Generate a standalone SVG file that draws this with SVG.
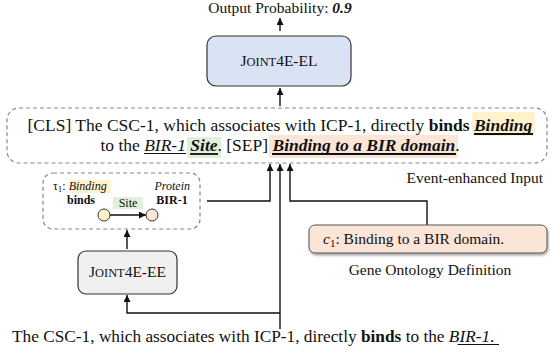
<svg xmlns="http://www.w3.org/2000/svg" width="550" height="363" viewBox="0 0 550 363">
<defs>
<marker id="ah" markerWidth="8" markerHeight="8" refX="7" refY="3.5" orient="auto" markerUnits="userSpaceOnUse"><path d="M0,0 L7,3.5 L0,7 z" fill="#111"/></marker>
<filter id="sh" x="-5%" y="-20%" width="115%" height="170%"><feDropShadow dx="1" dy="2" stdDeviation="1.2" flood-color="#000" flood-opacity="0.35"/></filter>
</defs>
<style>
text{font-family:"Liberation Serif","Times New Roman",serif;fill:#111}
.main{font-size:17.5px}
.lab{font-size:15.5px}
.sm{font-size:12px}
.b{font-weight:bold}
.i{font-style:italic}
.conn{fill:none;stroke:#111;stroke-width:1.4}
.dash{fill:none;stroke:#888;stroke-width:1.2;stroke-dasharray:4 3}
.ul{stroke:#111;stroke-width:1.8}
.ult{stroke:#111;stroke-width:1}
.node{stroke:#333;stroke-width:1.2}
</style>

<g id="connectors">
<line class="conn" x1="280" y1="31" x2="280" y2="18" marker-end="url(#ah)"/>
<line class="conn" x1="280" y1="106" x2="280" y2="88" marker-end="url(#ah)"/>
<path class="conn" d="M207,201 H270 V164" marker-end="url(#ah)"/>
<path class="conn" d="M280,329 V164" marker-end="url(#ah)"/>
<path class="conn" d="M427,225 V201 H290 V164" marker-end="url(#ah)"/>
<path class="conn" d="M280,313 H127 V295" marker-end="url(#ah)"/>
<line class="conn" x1="127" y1="249" x2="127" y2="230" marker-end="url(#ah)"/>
</g>

<g id="output-probability">
<text class="lab" x="280" y="13" text-anchor="middle">Output Probability: <tspan class="b i">0.9</tspan></text>
</g>

<g id="joint4e-el">
<rect class="node" x="207" y="36" width="144" height="50" rx="9" fill="#dae3f3"/>
<text class="lab" x="279" y="66" text-anchor="middle">J<tspan font-size="12.4px">OINT</tspan>4E-EL</text>
</g>

<g id="event-enhanced-input">
<rect class="dash" x="7" y="108" width="540" height="55" rx="12"/>
<rect x="472" y="112" width="63" height="24" fill="#fff2cc"/>
<rect x="187" y="137" width="34" height="21" fill="#e2f0d9"/>
<rect x="269" y="135" width="189" height="23" fill="#fbe5d6"/>
<text class="main" x="27.5" y="131">[CLS] The CSC-1, which associates with ICP-1, directly <tspan class="b">binds</tspan> <tspan class="b i">Binding</tspan></text>
<text class="main" x="100.4" y="151">to the <tspan class="i">BIR-1</tspan> <tspan class="b i">Site</tspan>. [SEP] <tspan class="b i">Binding to a BIR domain</tspan>.</text>
<line class="ul" x1="474" y1="134" x2="533" y2="134"/>
<line class="ult" x1="144" y1="153.5" x2="186" y2="153.5"/>
<line class="ul" x1="190" y1="154" x2="218" y2="154"/>
<line class="ul" x1="272" y1="154" x2="456" y2="154"/>
<text class="lab" x="543" y="183" text-anchor="end">Event-enhanced Input</text>
</g>

<g id="event-graph">
<rect class="dash" x="43" y="173" width="157" height="56" rx="10"/>
<rect x="70" y="180" width="41" height="13" fill="#fff2cc"/>
<text class="sm" x="53" y="190">τ<tspan font-size="9px" dy="2">1</tspan><tspan dy="-2">: </tspan><tspan class="i">Binding</tspan></text>
<text class="sm i" x="190" y="190" text-anchor="end">Protein</text>
<text class="sm b" x="81" y="204" text-anchor="middle">binds</text>
<text class="sm b" x="172" y="204" text-anchor="middle">BIR-1</text>
<rect x="113" y="197" width="30" height="12" fill="#e2f0d9"/>
<text class="sm" x="128" y="207" text-anchor="middle">Site</text>
<line class="conn" x1="110" y1="215" x2="146" y2="215" stroke-width="1.2" marker-end="url(#ah)"/>
<circle cx="104" cy="215" r="6" fill="#fff2cc" stroke="#333" stroke-width="1"/>
<circle cx="152" cy="215" r="6" fill="#fbe5d6" stroke="#333" stroke-width="1"/>
</g>

<g id="joint4e-ee">
<rect class="node" x="78" y="251" width="99" height="43" rx="8" fill="#f0f0f0"/>
<text class="lab" x="127.5" y="277" text-anchor="middle">J<tspan font-size="12.4px">OINT</tspan>4E-EE</text>
</g>

<g id="go-definition">
<rect x="309" y="225" width="238" height="28" rx="6" fill="#fbe5d6" stroke="#555" stroke-width="1" filter="url(#sh)"/>
<text class="lab" x="323" y="244"><tspan class="i">c</tspan><tspan font-size="11px" dy="2.5">1</tspan><tspan dy="-2.5">: Binding to a BIR domain.</tspan></text>
<text class="lab" x="430" y="275" text-anchor="middle">Gene Ontology Definition</text>
</g>

<g id="input-sentence">
<text x="12" y="342" font-size="17.3px">The CSC-1, which associates with ICP-1, directly <tspan class="b">binds</tspan> to the <tspan class="i">BIR-1</tspan>.</text>
<line class="ult" x1="457.5" y1="344.5" x2="499" y2="344.5"/>
</g>
</svg>
